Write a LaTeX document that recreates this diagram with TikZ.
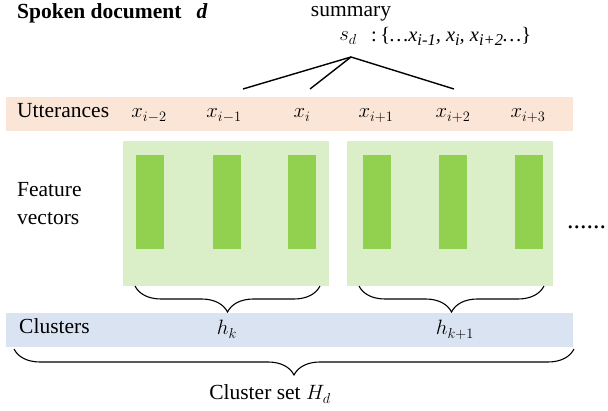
\documentclass[tikz,border=0pt]{standalone}
\usepackage{fontspec}
\setmainfont{Liberation Serif}
\usetikzlibrary{decorations.pathreplacing}
\definecolor{peach}{RGB}{251,229,214}
\definecolor{palegreen}{RGB}{218,238,199}
\definecolor{leafgreen}{RGB}{146,208,80}
\definecolor{paleblue}{RGB}{218,227,241}
% lowered, slightly smaller index for the summary set
\newcommand\idx[1]{\raisebox{-0.18em}{\fontsize{16.5}{18}\selectfont #1}}
\begin{document}
\begin{tikzpicture}[x=1pt,y=-1pt,
  txt/.style={font=\fontsize{21.5}{25}\selectfont, inner sep=0pt},
  mth/.style={font=\fontsize{20}{24}\selectfont, inner sep=0pt},
  band/.style={draw=none, inner sep=0pt, anchor=north west},
  fvbox/.style={draw=none, fill=palegreen, inner sep=0pt, anchor=north west,
    minimum width=206pt, minimum height=145pt},
  bar/.style={draw=none, fill=leafgreen, inner sep=0pt,
    minimum width=28pt, minimum height=94pt},
  link/.style={line width=1.4pt},
  curly/.style={decorate, decoration={brace, mirror, amplitude=26pt}, line width=1.1pt},
]
\useasboundingbox (0,0) rectangle (608,411);

% title and summary
\node[txt, anchor=base west] (title) at (17,19)
  {\textbf{Spoken document}\hspace{0.7em}\textbf{\textit{d}}};
\node[txt, anchor=base] (summary) at (351,17) {summary};
\node[mth, anchor=base] (sd) at (348,41) {$s_d$};
\node[txt, anchor=base west] (sdset) at (371,42)
  {\fontsize{20.5}{24}\selectfont :\,\{\textit{…x\idx{i-1}, x\idx{i}, x\idx{i+2}…}\}};

% utterance band
\node[band, fill=peach, minimum width=567pt, minimum height=34pt] (utt) at (6,97) {};
\node[txt, anchor=base west] (uttlbl) at (17,118) {Utterances};
\foreach \n/\x/\s in {u1/149/{i-2}, u2/224/{i-1}, u3/302/{i}, u4/376/{i+1}, u5/453/{i+2}, u6/528/{i+3}}
  \node[mth, anchor=base] (\n) at (\x,118) {$x_{\s}$};

% links from the summary to the selected utterances
\coordinate (apex) at (351,57);
\coordinate (e1) at (243,89);
\coordinate (e2) at (310,89);
\coordinate (e3) at (454,89);
\draw[link] (e1) -- (apex) -- (e3);
\draw[link] (e2) -- (apex);

% feature vectors
\node[txt, anchor=base west] (feat) at (17,197) {Feature};
\node[txt, anchor=base west] (vec) at (17,225) {vectors};
\node[fvbox] (g1) at (123,141) {};
\node[fvbox] (g2) at (347,141) {};
\foreach \n/\x in {b1/150, b2/227, b3/302, b4/376.5, b5/453, b6/529}
  \node[bar] (\n) at (\x,202) {};
\node[txt, anchor=base west, font=\fontsize{26}{28}\selectfont] (dots) at (567,229) {......};

% cluster braces
\coordinate (c1a) at (135,286);
\coordinate (c1b) at (320,286);
\coordinate (c2a) at (359,286);
\coordinate (c2b) at (544,286);
\draw[curly] (c1a) -- (c1b);
\draw[curly] (c2a) -- (c2b);

% cluster band
\node[band, fill=paleblue, minimum width=567pt, minimum height=34pt] (clu) at (6,313) {};
\node[txt, anchor=base west] (clulbl) at (19,334) {Clusters};
\node[mth, anchor=base] (hk) at (227,335) {$h_k$};
\node[mth, anchor=base] (hk1) at (455,335) {$h_{k+1}$};

% cluster set brace
\coordinate (sa) at (14,349);
\coordinate (sb) at (574,349);
\draw[curly] (sa) -- (sb);
\node[txt, anchor=base] (setlbl) at (270,400) {Cluster set $H_d$};
\end{tikzpicture}
\end{document}
